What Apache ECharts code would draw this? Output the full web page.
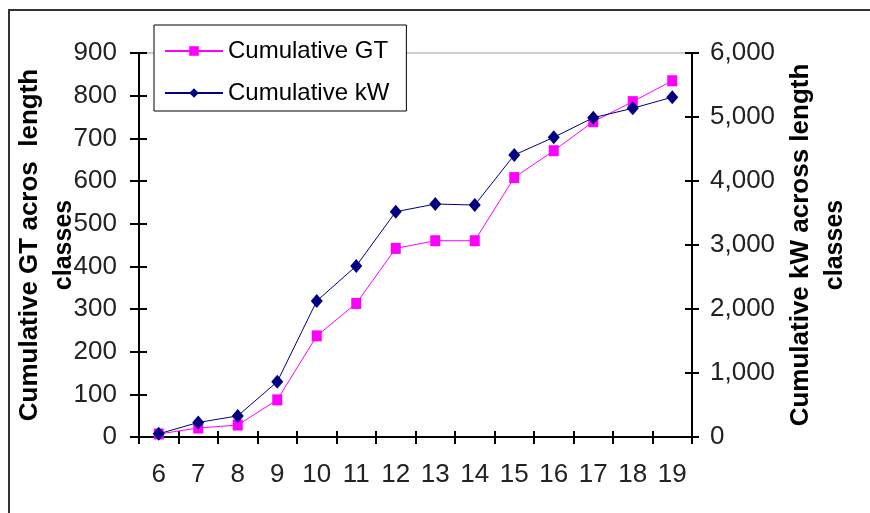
<!DOCTYPE html>
<html>
<head>
<meta charset="utf-8">
<script src="https://cdn.jsdelivr.net/npm/echarts@6/dist/echarts.min.js"></script>
<style>html,body{margin:0;padding:0;background:#fff}#c{width:870px;height:513px}</style>
</head>
<body>
<div id="c"></div>
<script>
const categories = ['6','7','8','9','10','11','12','13','14','15','16','17','18','19'];
const cumulativeGT = [7, 21, 28, 87, 237, 313, 442, 460, 460, 608, 671, 739, 786, 835];
const cumulativeKW = [50, 227, 330, 864, 2125, 2672, 3520, 3640, 3625, 4406, 4683, 4989, 5136, 5310];
const gtTicks = {min: 0, max: 900, interval: 100};
const kwTicks = {min: 0, max: 6000, interval: 1000};

const FONT = 'Liberation Sans';
const chart = echarts.init(document.getElementById('c'));
const labelStyle = {fontFamily: FONT, fontSize: 26, color: '#222'};
const titleRich = {
  a: {fontFamily: FONT, fontWeight: 'bold', fontSize: 26, lineHeight: 34, color: '#000'},
  b: {fontFamily: FONT, fontWeight: 'bold', fontSize: 25, lineHeight: 34, color: '#000'}
};
const axisLineStyle = {color: '#000', width: 2};

chart.setOption({
  animation: false,
  backgroundColor: '#fff',
  graphic: [{
    type: 'rect', shape: {x: 9, y: 10, width: 900, height: 600},
    style: {fill: 'none', stroke: '#333', lineWidth: 2}, z: 100, silent: true
  }],
  grid: {left: 139, right: 178, top: 53, bottom: 76, show: true, borderColor: '#999', borderWidth: 1},
  legend: {
    left: 154, top: 25, orient: 'vertical',
    backgroundColor: '#fff', borderColor: '#000', borderWidth: 1,
    padding: [14, 17, 6, 10], itemGap: 18, itemWidth: 58, itemHeight: 12,
    textStyle: {fontFamily: FONT, fontSize: 24, color: '#000'},
    data: ['Cumulative GT', 'Cumulative kW']
  },
  xAxis: [{
    type: 'category', data: categories, position: 'bottom', boundaryGap: true,
    axisLine: {lineStyle: axisLineStyle},
    axisTick: {show: true, length: 7, lineStyle: {color: '#000', width: 2}},
    axisLabel: Object.assign({margin: 25}, labelStyle),
    splitLine: {show: false}
  }, {
    type: 'category', data: categories, position: 'bottom', boundaryGap: true,
    axisLine: {show: false},
    axisTick: {show: true, inside: true, length: 6, lineStyle: {color: '#000', width: 2}},
    axisLabel: {show: false}, splitLine: {show: false}
  }],
  yAxis: [{
    type: 'value', position: 'left', min: gtTicks.min, max: gtTicks.max, interval: gtTicks.interval,
    name: '{a|Cumulative GT acros  length}\n{b|classes}',
    nameLocation: 'middle', nameRotate: 90, nameGap: 58, nameMoveOverlap: false,
    nameTextStyle: {rich: titleRich},
    axisLine: {show: true, lineStyle: axisLineStyle},
    axisTick: {show: true, length: 9, lineStyle: {color: '#000', width: 2}},
    axisLabel: Object.assign({margin: 22}, labelStyle),
    splitLine: {show: false}
  }, {
    type: 'value', position: 'right', min: kwTicks.min, max: kwTicks.max, interval: kwTicks.interval,
    name: '{a|Cumulative kW across length}\n{b|classes}',
    nameLocation: 'middle', nameRotate: 90, nameGap: 92, nameMoveOverlap: false,
    nameTextStyle: {rich: titleRich},
    axisLine: {show: true, lineStyle: axisLineStyle},
    axisTick: {show: true, length: 7, lineStyle: {color: '#000', width: 2}},
    axisLabel: Object.assign({margin: 18, formatter: v => v.toLocaleString('en-US')}, labelStyle),
    splitLine: {show: false}
  }, {
    type: 'value', position: 'left', min: gtTicks.min, max: gtTicks.max, interval: gtTicks.interval,
    axisLine: {show: false}, axisLabel: {show: false}, splitLine: {show: false},
    axisTick: {show: true, inside: true, length: 8, lineStyle: {color: '#000', width: 2}}
  }, {
    type: 'value', position: 'right', min: kwTicks.min, max: kwTicks.max, interval: kwTicks.interval,
    axisLine: {show: false}, axisLabel: {show: false}, splitLine: {show: false},
    axisTick: {show: true, inside: true, length: 7, lineStyle: {color: '#000', width: 2}}
  }],
  series: [{
    name: 'Cumulative GT', type: 'line', xAxisIndex: 0, yAxisIndex: 0, data: cumulativeGT,
    symbol: 'rect', symbolSize: [10, 11],
    lineStyle: {color: '#FF00FF', width: 1}, itemStyle: {color: '#FF00FF'}, z: 3
  }, {
    name: 'Cumulative kW', type: 'line', xAxisIndex: 0, yAxisIndex: 1, data: cumulativeKW,
    symbol: 'diamond', symbolSize: [12, 14],
    lineStyle: {color: '#000080', width: 1}, itemStyle: {color: '#000080'}, z: 4
  }]
});
</script>
</body>
</html>
